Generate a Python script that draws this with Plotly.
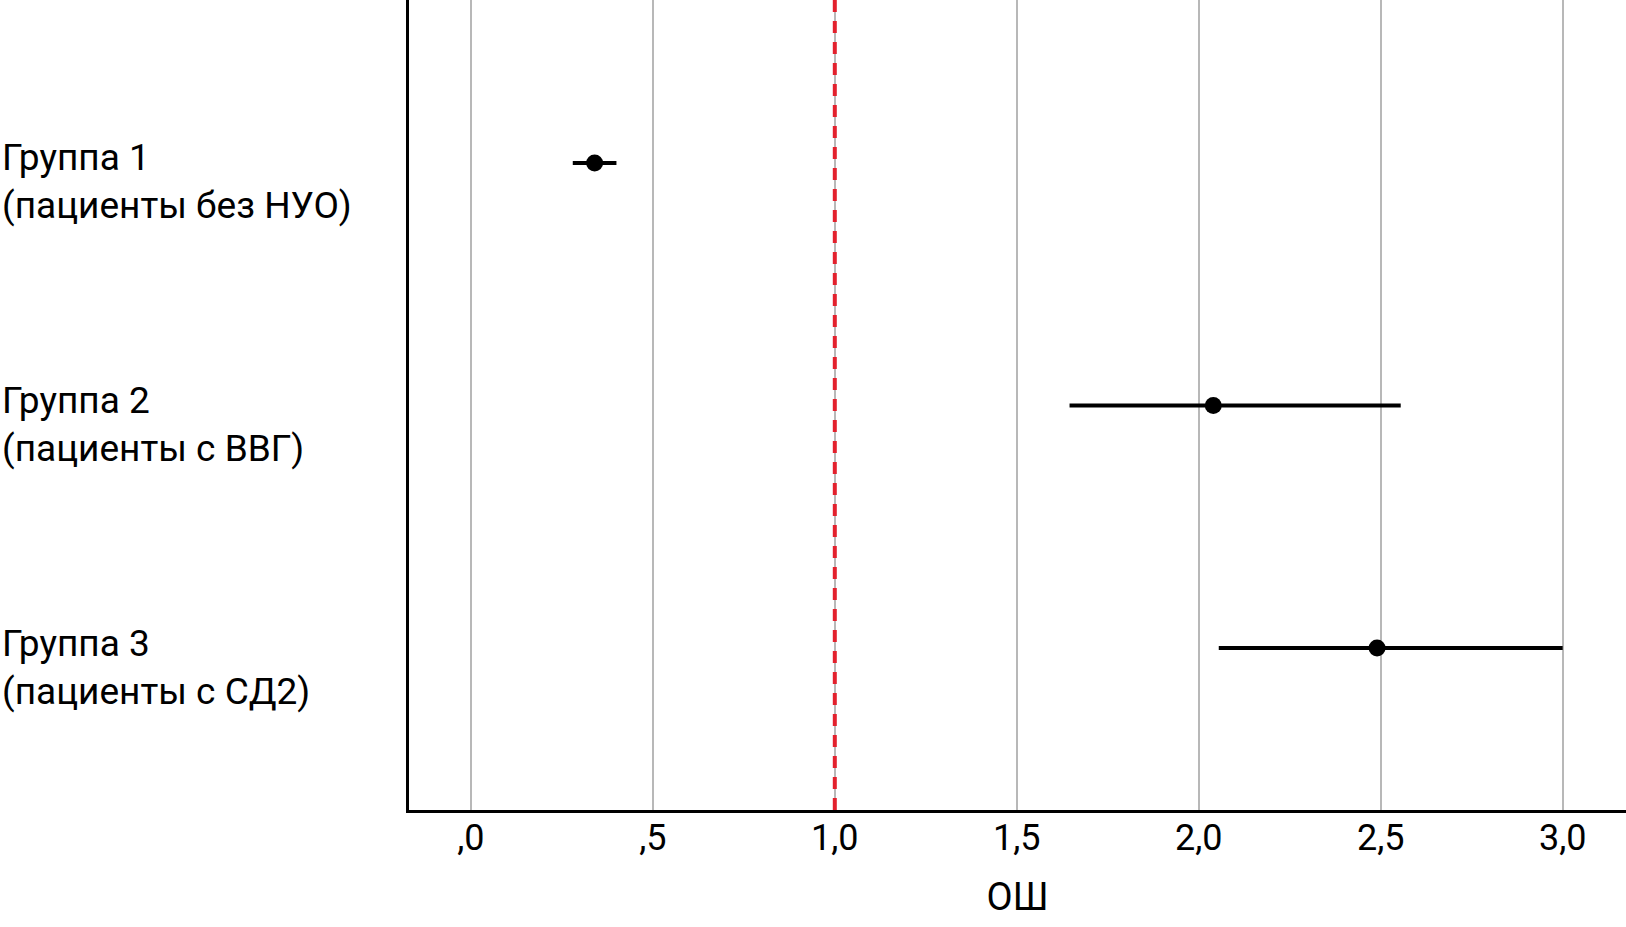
import plotly.graph_objects as go

# Data
groups = ["Группа 1<br>(пациенты без НУО)",
          "Группа 2<br>(пациенты с ВВГ)",
          "Группа 3<br>(пациенты с СД2)"]
group_pos = [1, 2, 3]
or_vals = [0.34, 2.04, 2.49]
ci_low = [0.28, 1.645, 2.055]
ci_high = [0.40, 2.555, 3.0]

tick_vals = [0, 0.5, 1.0, 1.5, 2.0, 2.5, 3.0]
tick_text = [",0", ",5", "1,0", "1,5", "2,0", "2,5", "3,0"]

FONT = "Roboto"

fig = go.Figure()

fig.add_trace(go.Scatter(
    x=or_vals,
    y=group_pos,
    mode="markers",
    marker=dict(size=17, color="black"),
    error_x=dict(
        type="data",
        symmetric=False,
        array=[h - v for h, v in zip(ci_high, or_vals)],
        arrayminus=[v - l for v, l in zip(or_vals, ci_low)],
        thickness=4,
        width=0,
        color="black",
    ),
    showlegend=False,
))

# reference line at OR = 1
fig.add_vline(x=1.0, line=dict(color="#e3212d", width=4, dash="12px,9px"))

# group labels, left aligned
for lab, y in zip(groups, group_pos):
    fig.add_annotation(
        text=lab, xref="paper", x=-409 / 1217, xanchor="left",
        yref="y", y=y, yanchor="middle", yshift=-19,
        showarrow=False, align="left",
        font=dict(family=FONT, size=37, color="black"),
    )

fig.update_xaxes(
    range=[-0.17, 3.174],
    tickvals=tick_vals,
    ticktext=tick_text,
    showgrid=True,
    gridcolor="#b8b8b8",
    gridwidth=1.5,
    zeroline=False,
    showline=True,
    linecolor="black",
    linewidth=3,
    ticks="",
    ticklabelstandoff=-6,
    tickfont=dict(family=FONT, size=36, color="black"),
    title=dict(text="ОШ", font=dict(family=FONT, size=38, color="black"), standoff=26),
)
fig.update_yaxes(
    range=[3.668, 0.328],
    showgrid=False,
    zeroline=False,
    showticklabels=False,
    ticks="",
    showline=True,
    linecolor="black",
    linewidth=3,
)

fig.update_layout(
    width=1626,
    height=927,
    margin=dict(l=409, r=0, t=0, b=117),
    plot_bgcolor="white",
    paper_bgcolor="white",
    font=dict(family=FONT, color="black"),
)

# page has a default body margin; drop it so the figure fills the window
fig.write_html("out.html", config={"displayModeBar": False},
               post_script="document.body.style.margin='0px';")
